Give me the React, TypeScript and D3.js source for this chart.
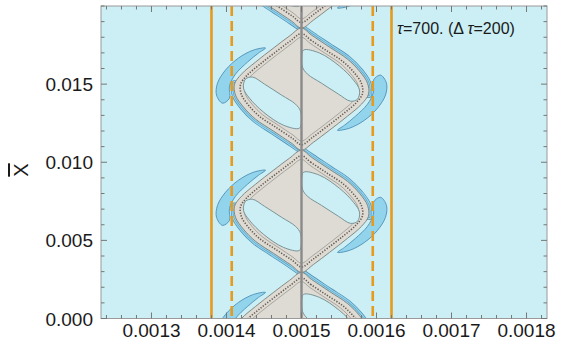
import * as d3 from 'd3'
import React, { useEffect, useRef } from 'react'

const width = 565
const height = 344

const xDomain: [number, number] = [0.0012327, 0.0018273]
const yDomain: [number, number] = [0, 0.02]
const xTicks = [0.0013, 0.0014, 0.0015, 0.0016, 0.0017, 0.0018]
const xTickLabels = ['0.0013', '0.0014', '0.0015', '0.0016', '0.0017', '0.0018']
const yTicks = [0, 0.005, 0.01, 0.015]
const yTickLabels = ['0.000', '0.005', '0.010', '0.015']
const xMinorStep = 0.00002
const yMinorStep = 0.001

const centerX = 0.0015
const solidLines = [0.00138, 0.00162]
const dashedLines = [0.001407, 0.001595]

// y of each trapped "eye" centre
const eyeCenters = [0.0225, 0.01468, 0.00686, -0.00096]

// eye outline, offsets from centre: dx in 1e-6, dy in 1e-4
const eyeOutline: [number, number][] = [
  [0, 39.1], [13.3, 34.6], [37.3, 26.9], [61.3, 19.2], [77.3, 11.5], [88, 3.8],
  [89.3, -3.2], [80, -9.6], [61.3, -17.3], [37.3, -26.3], [16, -34],
  [0, -39.1], [-13.3, -34.6], [-37.3, -26.9], [-61.3, -19.2], [-77.3, -11.5], [-88, -3.8],
  [-89.3, 3.2], [-80, 9.6], [-61.3, 17.3], [-37.3, 26.3], [-16, 34]
]
// stretches of the outline that carry the blue filament bands
const bandRanges: [number, number][] = [[0, 6], [11, 17]]

const holeUpperRight: [number, number][] = [
  [2.7, 25], [24, 23.1], [50.7, 14.7], [69.3, 5.8], [77.3, -0.6], [74.7, -6.4],
  [65.3, -7.7], [49.3, -3.2], [26.7, 3.8], [8, 9.6], [1.3, 14.1], [0, 20.5]
]
const holeLowerLeft: [number, number][] = holeUpperRight.map(([a, b]) => [-a, -b])

const crescentLeft: [number, number][] = [
  [-48, 26.3], [-64, 25], [-84, 19.9], [-101.3, 12.2], [-112, 3.8], [-113.3, -3.8],
  [-105.3, -9], [-96, -5.8], [-96, 1.9], [-88, 9.6], [-72, 17.3], [-57.3, 23.1]
]
const crescentRight: [number, number][] = crescentLeft.map(([a, b]) => [-a, -b])

const bgColor = '#cbeff5'
const grayFill = '#dddbd3'
const skyBlue = '#92d4ec'
const darkBlue = '#4f90b6'
const orange = '#e69a1e'

export default function App() {
  const svgRef = useRef<SVGSVGElement>(null)

  useEffect(() => {
    if (!svgRef.current) return
    const margin = { top: 6, right: 18, bottom: 25.5, left: 101 }
    const innerW = width - margin.left - margin.right
    const innerH = height - margin.top - margin.bottom

    const svg = d3.select(svgRef.current)
    svg.selectAll('*').remove()
    svg.attr('width', width).attr('height', height)

    const x = d3.scaleLinear().domain(xDomain).range([margin.left, margin.left + innerW])
    const y = d3.scaleLinear().domain(yDomain).range([margin.top + innerH, margin.top])

    svg.append('defs').append('clipPath').attr('id', 'plotClip')
      .append('rect')
      .attr('x', margin.left).attr('y', margin.top)
      .attr('width', innerW).attr('height', innerH)

    svg.append('rect')
      .attr('x', margin.left).attr('y', margin.top)
      .attr('width', innerW).attr('height', innerH)
      .attr('fill', bgColor)

    const plot = svg.append('g').attr('clip-path', 'url(#plotClip)')

    const toPts = (cy: number, pts: [number, number][], k = 1) =>
      pts.map(([dx, dy]) => [x(centerX + dx * k * 1e-6), y(cy + dy * k * 1e-4)] as [number, number])

    const closed = d3.line().curve(d3.curveCatmullRomClosed.alpha(0.5))
    const open = d3.line().curve(d3.curveCatmullRom.alpha(0.5))

    // filament bands (drawn first, gray covers their inner half)
    const bandLayers = [
      { c: darkBlue, w: 7.6 },
      { c: skyBlue, w: 6.2 },
      { c: darkBlue, w: 3.6 },
      { c: skyBlue, w: 2.8 }
    ]
    eyeCenters.forEach(cy => {
      const pts = toPts(cy, eyeOutline)
      bandRanges.forEach(([a, b]) => {
        const seg = pts.slice(a, b + 1)
        bandLayers.forEach(l => {
          plot.append('path')
            .attr('d', open(seg))
            .attr('fill', 'none')
            .attr('stroke', l.c)
            .attr('stroke-width', l.w)
            .attr('stroke-linecap', 'round')
        })
      })
    })

    // crescents outside the eyes
    eyeCenters.forEach(cy => {
      ;[crescentLeft, crescentRight].forEach(cr => {
        plot.append('path')
          .attr('d', closed(toPts(cy, cr)))
          .attr('fill', skyBlue)
          .attr('stroke', darkBlue)
          .attr('stroke-width', 0.9)
      })
    })

    // gray trapped region
    eyeCenters.forEach(cy => {
      plot.append('path')
        .attr('d', closed(toPts(cy, eyeOutline)))
        .attr('fill', grayFill)
        .attr('stroke', '#7d7e78')
        .attr('stroke-width', 0.9)

      plot.append('path')
        .attr('d', closed(toPts(cy, eyeOutline, 0.91)))
        .attr('fill', 'none')
        .attr('stroke', '#6b5c52')
        .attr('stroke-width', 1.6)
        .attr('stroke-dasharray', '1.3 1.5')

      plot.append('path')
        .attr('d', closed(toPts(cy, eyeOutline, 0.85)))
        .attr('fill', 'none')
        .attr('stroke', '#8f8e86')
        .attr('stroke-width', 0.7)

      ;[holeLowerLeft, holeUpperRight].forEach(h => {
        plot.append('path')
          .attr('d', closed(toPts(cy, h)))
          .attr('fill', bgColor)
          .attr('stroke', '#6f8a8e')
          .attr('stroke-width', 0.9)
      })
    })

    // centre line and boundaries
    plot.append('line')
      .attr('x1', x(centerX)).attr('x2', x(centerX))
      .attr('y1', margin.top).attr('y2', margin.top + innerH)
      .attr('stroke', '#8a8a8a').attr('stroke-width', 2.4)

    solidLines.forEach(v => {
      plot.append('line')
        .attr('x1', x(v)).attr('x2', x(v))
        .attr('y1', margin.top).attr('y2', margin.top + innerH)
        .attr('stroke', orange).attr('stroke-width', 2.6)
    })
    dashedLines.forEach(v => {
      plot.append('line')
        .attr('x1', x(v)).attr('x2', x(v))
        .attr('y1', margin.top).attr('y2', margin.top + innerH)
        .attr('stroke', orange).attr('stroke-width', 2.6)
        .attr('stroke-dasharray', '10 5')
    })

    // frame
    svg.append('rect')
      .attr('x', margin.left).attr('y', margin.top)
      .attr('width', innerW).attr('height', innerH)
      .attr('fill', 'none').attr('stroke', '#9a9a9a').attr('stroke-width', 1)

    // inward ticks on all four sides
    const ticks = svg.append('g').attr('stroke', '#777').attr('stroke-width', 1)
    const xMinor = d3.range(Math.ceil(xDomain[0] / xMinorStep), Math.floor(xDomain[1] / xMinorStep) + 1)
      .map(i => i * xMinorStep)
    xMinor.forEach(v => {
      const major = xTicks.some(t => Math.abs(t - v) < 1e-9)
      const len = major ? 6 : 3.5
      ticks.append('line').attr('x1', x(v)).attr('x2', x(v))
        .attr('y1', margin.top + innerH).attr('y2', margin.top + innerH - len)
      ticks.append('line').attr('x1', x(v)).attr('x2', x(v))
        .attr('y1', margin.top).attr('y2', margin.top + len)
    })
    const yMinor = d3.range(0, Math.floor(yDomain[1] / yMinorStep) + 1).map(i => i * yMinorStep)
    yMinor.forEach(v => {
      const major = yTicks.some(t => Math.abs(t - v) < 1e-9)
      const len = major ? 6 : 3.5
      ticks.append('line').attr('y1', y(v)).attr('y2', y(v))
        .attr('x1', margin.left).attr('x2', margin.left + len)
      ticks.append('line').attr('y1', y(v)).attr('y2', y(v))
        .attr('x1', margin.left + innerW).attr('x2', margin.left + innerW - len)
    })

    const font = '"Liberation Sans", Arial, Helvetica, sans-serif'
    xTicks.forEach((v, i) => {
      svg.append('text')
        .attr('x', x(v)).attr('y', 337)
        .attr('text-anchor', 'middle')
        .attr('font-family', font).attr('font-size', 19)
        .attr('fill', '#1a1a1a')
        .text(xTickLabels[i])
    })
    yTicks.forEach((v, i) => {
      svg.append('text')
        .attr('x', 93).attr('y', y(v) + 7)
        .attr('text-anchor', 'end')
        .attr('font-family', font).attr('font-size', 19)
        .attr('fill', '#1a1a1a')
        .text(yTickLabels[i])
    })

    svg.append('text')
      .attr('transform', 'translate(28,170) rotate(-90)')
      .attr('text-anchor', 'middle')
      .attr('font-family', font).attr('font-size', 20)
      .attr('fill', '#1a1a1a')
      .style('text-decoration', 'overline')
      .text('X')

    const ann = svg.append('text')
      .attr('x', 397).attr('y', 34)
      .attr('font-family', font).attr('font-size', 16)
      .attr('fill', '#1a1a1a')
    ann.append('tspan').attr('font-style', 'italic').text('τ')
    ann.append('tspan').text('=700. (Δ ')
    ann.append('tspan').attr('font-style', 'italic').text('τ')
    ann.append('tspan').text('=200)')
  }, [])

  return (
    <svg
      ref={svgRef}
      style={{ position: 'absolute', left: 0, top: 0, background: '#fff' }}
      role="img"
      aria-label="Phase space contour"
    />
  )
}
